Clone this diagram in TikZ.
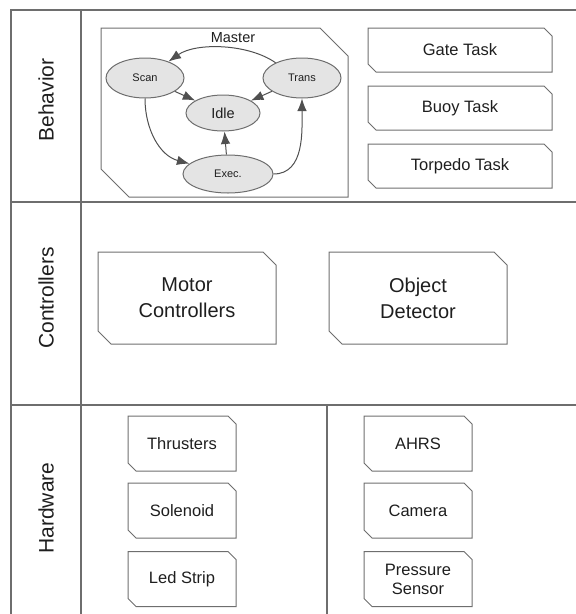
\documentclass[tikz,border=0pt]{standalone}
\usepackage{fontspec}
\setmainfont{Liberation Sans}
\usepackage{xcolor}
\usepackage{tikz}
\usetikzlibrary{shapes.geometric}
\usetikzlibrary{arrows.meta}
\definecolor{linegray}{HTML}{6E6E6E}
\definecolor{stategray}{HTML}{E4E4E4}
\definecolor{textgray}{HTML}{1E1E1E}
\definecolor{arrowgray}{HTML}{505050}
\tikzset{edge/.style = {->,> = {Latex[length=12.5pt,width=9.5pt]}, draw=arrowgray}}
\tikzset{box/.style = {rectangle, inner sep=0pt, outer sep=0pt, text=textgray, align=center,
    font=\fontsize{16.5}{20}\selectfont,
    append after command={\pgfextra{\draw[linegray] (\tikzlastnode.north west)
      -- ([xshift=-#1]\tikzlastnode.north east) -- ([yshift=-#1]\tikzlastnode.north east)
      -- (\tikzlastnode.south east) -- ([xshift=#1]\tikzlastnode.south west)
      -- ([yshift=#1]\tikzlastnode.south west) -- cycle;}}},
    box/.default=8pt}

\begin{document}
\begin{tikzpicture}[x=1pt,y=1pt,line width=1pt,
    state/.style={ellipse,draw=linegray,fill=stategray,inner sep=0pt,text=textgray,font=\fontsize{11}{13}\selectfont},
    lane/.style={rotate=90,text=textgray,font=\fontsize{21}{25}\selectfont},
    frame/.style={draw=linegray,line width=1.3pt}]
\useasboundingbox (0,0) rectangle (576,-614);

% lanes
\draw[frame] (576,-10) -- (11,-10) -- (11,-614);
\draw[frame] (81,-10) -- (81,-614);
\draw[frame] (11,-202) -- (576,-202);
\draw[frame] (11,-405) -- (576,-405);
\draw[frame] (327,-405) -- (327,-614);

\node[lane] (behavior) at (46,-100) {Behavior};
\node[lane] (controllers) at (46,-298) {Controllers};
\node[lane] (hardware) at (46,-508) {Hardware};

% behavior
\node[box=28pt, minimum width=247pt, minimum height=169pt] (master) at (224.5,-112.5) {};
\node[text=textgray, font=\fontsize{14.5}{17}\selectfont] (mastertxt) at (233,-38) {Master};

\node[state, minimum width=78pt, minimum height=40pt] (scan) at (145,-78) {Scan};
\node[state, minimum width=78pt, minimum height=40pt] (trans) at (302,-78) {Trans};
\node[state, minimum width=74pt, minimum height=36pt, font=\fontsize{14.5}{17}\selectfont] (idle) at (223,-113) {Idle};
\node[state, minimum width=90pt, minimum height=38pt] (exec) at (228,-174) {Exec.};

\path[edge] (trans.150) to[out=145,in=35,looseness=0.8] (scan.35);
\path[edge] (scan) -- (idle);
\path[edge] (trans) -- (idle);
\path[edge] (scan.south) to[out=-90,in=165] (exec);
\path[edge] (exec) -- (idle);
\path[edge] (exec.east) to[out=0,in=-90] (trans.south);

\node[box, minimum width=184pt, minimum height=44pt] (gate) at (460,-50) {Gate Task};
\node[box, minimum width=184pt, minimum height=44pt] (buoy) at (460,-108) {Buoy Task};
\node[box, minimum width=184pt, minimum height=44pt] (torpedo) at (460,-166) {Torpedo Task};

% controllers
\node[box=13pt, minimum width=178pt, minimum height=92pt, font=\fontsize{20}{26}\selectfont] (motor) at (187,-298) {Motor\\Controllers};
\node[box=13pt, minimum width=178pt, minimum height=92pt, font=\fontsize{20}{26}\selectfont] (detector) at (418,-298) {Object\\Detector};

% hardware
\node[box, minimum width=108pt, minimum height=55pt] (thrusters) at (182,-443.5) {Thrusters};
\node[box, minimum width=108pt, minimum height=55pt] (solenoid) at (182,-510.5) {Solenoid};
\node[box, minimum width=108pt, minimum height=55pt] (ledstrip) at (182,-579) {Led Strip};
\node[box, minimum width=108pt, minimum height=55pt] (ahrs) at (418,-443.5) {AHRS};
\node[box, minimum width=108pt, minimum height=55pt] (camera) at (418,-510.5) {Camera};
\node[box, minimum width=108pt, minimum height=55pt, font=\fontsize{16.5}{19}\selectfont] (pressure) at (418,-579) {Pressure\\Sensor};
\end{tikzpicture}
\end{document}
